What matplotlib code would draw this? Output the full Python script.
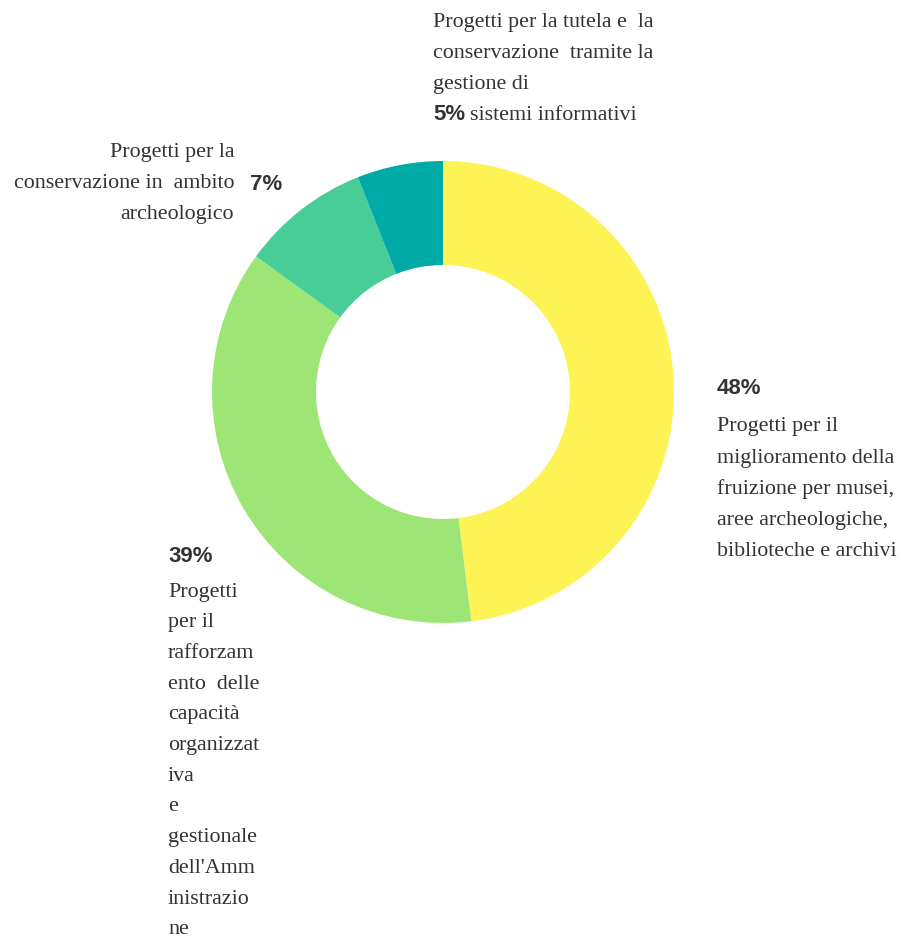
import matplotlib
matplotlib.use("Agg")
import matplotlib.pyplot as plt

# ---- data ----
categories = [
    "Progetti per il miglioramento della fruizione per musei, aree archeologiche, biblioteche e archivi",
    "Progetti per il rafforzamento delle capacità organizzativa e gestionale dell'Amministrazione",
    "Progetti per la conservazione in ambito archeologico",
    "Progetti per la tutela e la conservazione tramite la gestione di sistemi informativi",
]
values = [48.0, 36.9, 9.0, 6.0]          # slice sizes as drawn
pct_labels = ["48%", "39%", "7%", "5%"]  # printed labels
colors = ["#FDF354", "#9DE675", "#48CD99", "#00AAA7"]

# wrapped label lines as shown in the chart
lines_yellow = ["Progetti per il", "miglioramento della", "fruizione per musei,",
                "aree archeologiche,", "biblioteche e archivi"]
lines_lgreen = ["Progetti", "per il", "rafforzam", "ento  delle", "capacità",
                "organizzat", "iva", "e", "gestionale", "dell'Amm", "inistrazio", "ne"]
lines_green = ["Progetti per la", "conservazione in  ambito", "archeologico"]
lines_teal = ["Progetti per la tutela e  la", "conservazione  tramite la", "gestione di"]
teal_last = "sistemi informativi"

W, H = 901, 943
fig = plt.figure(figsize=(W / 100, H / 100), dpi=100)
ax = fig.add_axes([0, 0, 1, 1])

cx, cy = 443, H - 392
R, r_in = 231, 127
ax.pie(values, colors=colors, startangle=90, counterclock=False,
       center=(cx, cy), radius=R,
       wedgeprops=dict(width=R - r_in, linewidth=0))
ax.set_xlim(0, W)
ax.set_ylim(0, H)
ax.set_aspect("equal")
ax.axis("off")

serif = dict(family="Liberation Serif", fontsize=15.8, color="#333333")
bold = dict(family="Liberation Sans", fontsize=16, fontweight="bold", color="#333333")
LS = 31
DY = 2  # small vertical offset for text centring

def Y(py, dy=DY):
    return H - py - dy

# yellow (right)
ax.text(717, Y(387), pct_labels[0], ha="left", va="center", **bold)
for i, s in enumerate(lines_yellow):
    ax.text(717, Y(425 + i * LS), s, ha="left", va="center", **serif)

# light green (bottom-left) - slightly tighter spacing so the last line fits
ax.text(168, Y(555), pct_labels[1], ha="left", va="center", **bold)
for i, s in enumerate(lines_lgreen):
    ax.text(168, Y(592 + i * 30.7, 0), s, ha="left", va="center", **serif)

# green (left)
for i, s in enumerate(lines_green):
    ax.text(234, Y(151 + i * LS), s, ha="right", va="center", **serif)
ax.text(250, Y(182), pct_labels[2], ha="left", va="center", **bold)

# teal (top)
for i, s in enumerate(lines_teal):
    ax.text(433, Y(20 + i * LS), s, ha="left", va="center", **serif)
ax.text(433, Y(113), pct_labels[3], ha="left", va="center", **bold)
ax.text(470, Y(113), teal_last, ha="left", va="center", **serif)

fig.savefig("out.png", dpi=100, facecolor="white")
